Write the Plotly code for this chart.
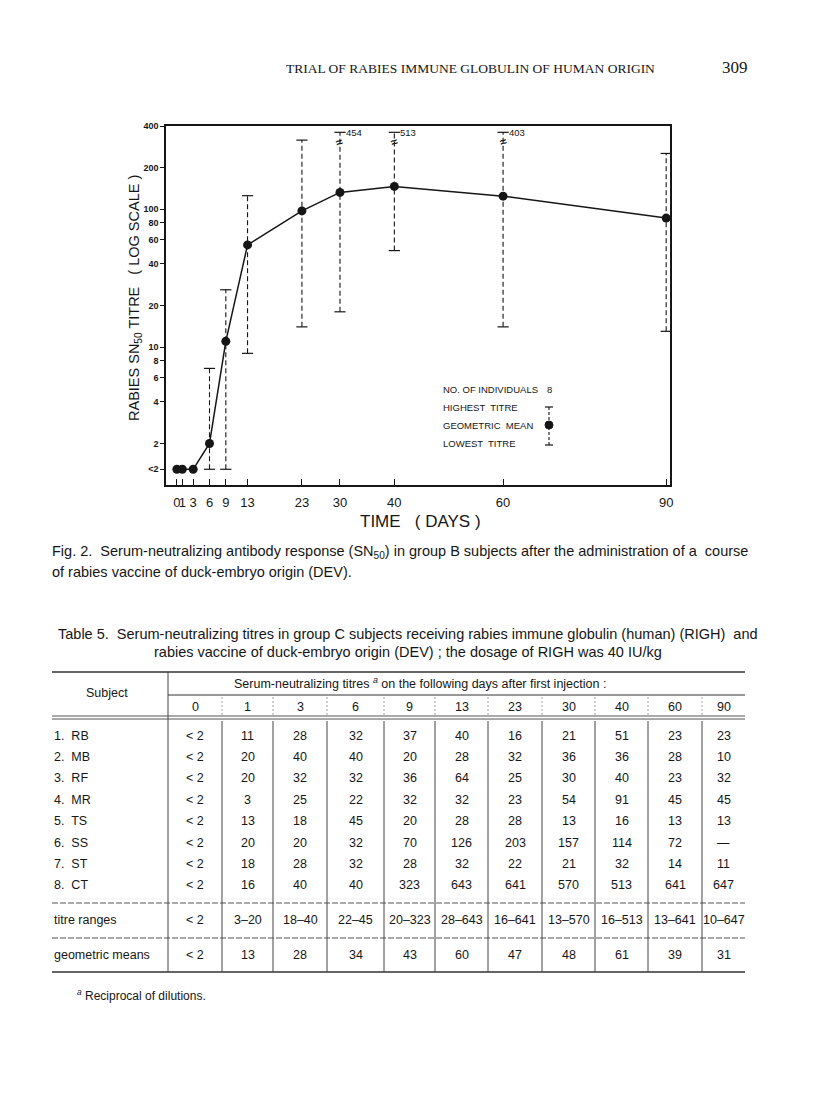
import numpy as np
import plotly.graph_objects as go

# page / plot geometry (pixels of the 816x1098 page)
W, H = 816, 1098
PAGE_OFF = 8   # the html body margin pushes the figure in by this much
PLOT_L, PLOT_R, PLOT_T, PLOT_B = 166, 670, 126, 485

LT2 = 1.3      # where "<2" sits on the log axis
Y_CLIP = 360   # tops beyond this are drawn broken with their value written

# ---- Fig. 2 data (group B) ----
days = [0, 1, 3, 6, 9, 13, 23, 30, 40, 60, 90]
geo_mean = [LT2, LT2, LT2, 2, 11, 55, 97, 132, 146, 124, 86]
highest = [None, None, None, 7, 26, 125, 316, 454, 513, 403, 253]
lowest = [None, None, None, LT2, LT2, 9, 14, 18, 50, 14, 13]

y_tickvals = [LT2, 2, 4, 6, 8, 10, 20, 40, 60, 80, 100, 200, 400]
y_ticktext = ["<2", "2", "4", "6", "8", "10", "20", "40", "60", "80", "100", "200", "400"]
x_ticktext = [str(d) for d in days]

legend_rows = ["NO. OF INDIVIDUALS", "HIGHEST  TITRE", "GEOMETRIC  MEAN", "LOWEST  TITRE"]
n_individuals = 8

# ---- Table 5 data (group C) ----
table_days = ["0", "1", "3", "6", "9", "13", "23", "30", "40", "60", "90"]
subjects = ["1.  RB", "2.  MB", "3.  RF", "4.  MR", "5.  TS", "6.  SS", "7.  ST", "8.  CT"]
titres = [
    ["< 2", "11", "28", "32", "37", "40", "16", "21", "51", "23", "23"],
    ["< 2", "20", "40", "40", "20", "28", "32", "36", "36", "28", "10"],
    ["< 2", "20", "32", "32", "36", "64", "25", "30", "40", "23", "32"],
    ["< 2", "3", "25", "22", "32", "32", "23", "54", "91", "45", "45"],
    ["< 2", "13", "18", "45", "20", "28", "28", "13", "16", "13", "13"],
    ["< 2", "20", "20", "32", "70", "126", "203", "157", "114", "72", "—"],
    ["< 2", "18", "28", "32", "28", "32", "22", "21", "32", "14", "11"],
    ["< 2", "16", "40", "40", "323", "643", "641", "570", "513", "641", "647"],
]
titre_ranges = ["< 2", "3–20", "18–40", "22–45", "20–323", "28–643", "16–641",
                "13–570", "16–513", "13–641", "10–647"]
geo_means_tbl = ["< 2", "13", "28", "34", "43", "60", "47", "48", "61", "39", "31"]


def px(x):
    return (x - PLOT_L) / (PLOT_R - PLOT_L)


def py(y):
    return (PLOT_B - y) / (PLOT_B - PLOT_T)


INK = "#161616"
SANS = "Liberation Sans, Arial, sans-serif"
NARROW = "Liberation Sans Narrow, Liberation Sans, sans-serif"
SERIF = "Liberation Serif, Times New Roman, serif"

# error bars, dashed with caps
bar_x, bar_y, cap_x, cap_y = [], [], [], []
brk_x, brk_y, brk_t = [], [], []
for d, lo, hi in zip(days, lowest, highest):
    if hi is None:
        continue
    top = min(hi, Y_CLIP)
    bar_x += [d, d, None]
    bar_y += [lo, top, None]
    cap_x += [d, d]
    cap_y += [lo, top]
    if hi > Y_CLIP:
        brk_x.append(d)
        brk_y.append(top)
        brk_t.append(str(hi))

fig = go.Figure()
fig.add_trace(go.Scatter(x=bar_x, y=bar_y, mode="lines",
                         line=dict(color=INK, width=1.1, dash="5px,3px"),
                         hoverinfo="skip"))
fig.add_trace(go.Scatter(x=cap_x, y=cap_y, mode="markers",
                         marker=dict(symbol="line-ew", size=8,
                                     line=dict(color=INK, width=1.2)),
                         hoverinfo="skip"))
fig.add_trace(go.Scatter(x=days, y=geo_mean, mode="lines+markers",
                         line=dict(color=INK, width=1.5),
                         marker=dict(color=INK, size=9)))

ann = []
shapes = []

# values of the broken (off-scale) highest titres
for d, top, t in zip(brk_x, brk_y, brk_t):
    ann.append(dict(x=d, y=np.log10(top), xref="x", yref="y", text=t,
                    showarrow=False, xanchor="left", yanchor="middle", xshift=4,
                    font=dict(size=9.5, family=SANS, color=INK)))
    ann.append(dict(x=d, y=np.log10(top), xref="x", yref="y", text="<b>≈</b>",
                    showarrow=False, xanchor="center", yanchor="middle", yshift=-10,
                    textangle=-20, font=dict(size=12, family=SANS, color=INK)))


def text(x, y, s, size=11, anchor="center", family=SANS, **kw):
    ann.append(dict(x=px(x), y=py(y), xref="paper", yref="paper", text=s,
                    showarrow=False, xanchor=anchor, yanchor="middle",
                    font=dict(size=size, family=family, color=INK), **kw))


def hline(x0, x1, y, width=1.0, color="#333", dash="solid"):
    shapes.append(dict(type="line", xref="paper", yref="paper",
                       x0=px(x0), x1=px(x1), y0=py(y), y1=py(y),
                       line=dict(color=color, width=width, dash=dash)))


def vline(x, y0, y1, width=1.0, color="#333", dash="solid"):
    shapes.append(dict(type="line", xref="paper", yref="paper",
                       x0=px(x), x1=px(x), y0=py(y0), y1=py(y1),
                       line=dict(color=color, width=width, dash=dash)))


# page header
text(470, 68, "TRIAL OF RABIES IMMUNE GLOBULIN OF HUMAN ORIGIN", size=13.5, family=SERIF)
text(735, 67, "309", size=17, family=SERIF)

# axis titles
text(135, 298, "RABIES SN<sub>50</sub> TITRE   ( LOG SCALE )", size=14.5,
     family=SANS, textangle=-90)
text(420, 521, "TIME   ( DAYS )", size=17, family=NARROW)

# legend box inside the plot
for i, lab in enumerate(legend_rows):
    text(441, 389 + i * 18.2, lab, size=9.5, anchor="left", family=SANS)
text(549, 389, str(n_individuals), size=9.5, family=SANS)
vline(549, 407, 445, width=1.1, color=INK, dash="3px,2px")
hline(545, 553, 407, width=1.2, color=INK)
hline(545, 553, 445, width=1.2, color=INK)
shapes.append(dict(type="circle", xref="paper", yref="paper",
                   x0=px(545), x1=px(553), y0=py(421), y1=py(429),
                   fillcolor=INK, line=dict(color=INK, width=1)))

# figure caption
text(50, 552, "Fig. 2.  Serum-neutralizing antibody response (SN<sub>50</sub>) in group B "
     "subjects after the administration of a  course", size=14.5, anchor="left")
text(50, 572, "of rabies vaccine of duck-embryo origin (DEV).", size=14.5, anchor="left")

# table title
text(408, 634, "Table 5.  Serum-neutralizing titres in group C subjects receiving rabies "
     "immune globulin (human) (RIGH)  and", size=14.5)
text(408, 652, "rabies vaccine of duck-embryo origin (DEV) ; the dosage of RIGH was 40 IU/kg",
     size=14.5)

# table
col_edges = [168, 222, 273, 327, 384, 435, 488, 542, 595, 648, 702, 745]
col_mid = [(a + b) / 2 for a, b in zip(col_edges[:-1], col_edges[1:])]
TL, TR = 52, 745
row_y = [736, 757, 778, 800, 821, 843, 864, 885]
range_y, mean_y = 920, 955
TS = 12.5

hline(TL, TR, 672, width=1.3)
hline(168, TR, 695, width=1.0)
hline(TL, TR, 716, width=1.0, color="#555")
hline(TL, TR, 719, width=1.0, color="#555")
hline(TL, TR, 903, width=1.0, color="#555", dash="6px,2px")
hline(TL, TR, 938, width=1.0, color="#555", dash="6px,2px")
hline(TL, TR, 972, width=1.5)
vline(168, 672, 972, width=1.0, color="#444")
for xe in col_edges[1:-1]:
    vline(xe, 697, 715, width=0.8, color="#888", dash="2px,2px")
    vline(xe, 721, 972, width=1.0, color="#444")

text(107, 693, "Subject", size=TS)
text(420, 683, "Serum-neutralizing titres <i><sup>a</sup></i> on the following days "
     "after first injection :", size=TS)
for xm, d in zip(col_mid, table_days):
    text(xm, 707, d, size=TS)
for yy, subj, row in zip(row_y, subjects, titres):
    text(TL, yy, subj, size=TS, anchor="left")
    for xm, v in zip(col_mid, row):
        text(xm, yy, v, size=TS)
text(TL, range_y, "titre ranges", size=12.5, anchor="left")
text(TL, mean_y, "geometric means", size=12.5, anchor="left")
for xm, r, m in zip(col_mid, titre_ranges, geo_means_tbl):
    text(xm, range_y, r, size=TS)
    text(xm, mean_y, m, size=TS)

text(75, 995, "<i><sup>a</sup></i> Reciprocal of dilutions.", size=12, anchor="left")

fig.update_layout(
    width=W - PAGE_OFF, height=H - PAGE_OFF,
    margin=dict(l=PLOT_L - PAGE_OFF, r=W - PLOT_R, t=PLOT_T - PAGE_OFF, b=H - PLOT_B, pad=0),
    paper_bgcolor="white", plot_bgcolor="white",
    showlegend=False,
    annotations=ann, shapes=shapes,
    xaxis=dict(range=[-2, 90.7], tickmode="array", tickvals=days, ticktext=x_ticktext,
               tickangle=0, ticks="inside", ticklen=6, tickcolor=INK,
               ticklabelstandoff=5,
               showgrid=False, zeroline=False, showline=True, mirror=True,
               linecolor=INK, linewidth=1.5,
               tickfont=dict(size=13, family=NARROW, color=INK)),
    yaxis=dict(type="log", range=[0, np.log10(400)], tickmode="array",
               tickvals=y_tickvals, ticktext=y_ticktext,
               ticks="outside", ticklen=4, tickcolor=INK,
               showgrid=False, zeroline=False, showline=True, mirror=True,
               linecolor=INK, linewidth=1.5,
               tickfont=dict(size=9, family=SANS, color=INK, weight="bold")),
)

fig.write_html("out.html")
